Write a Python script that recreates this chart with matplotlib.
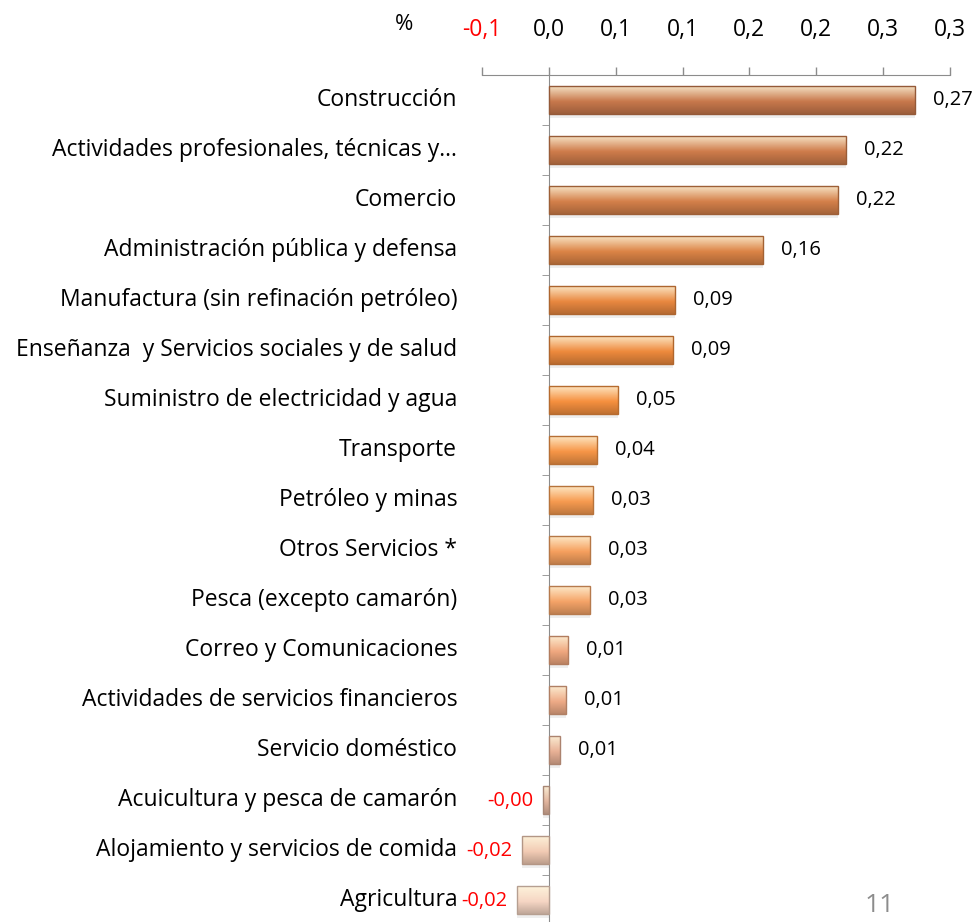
import matplotlib.pyplot as plt
import matplotlib.colors as mcolors
import numpy as np
from matplotlib.ticker import FixedLocator, FuncFormatter

# Datos: contribución al crecimiento por actividad (%)
sectores = [
    "Construcción",
    "Actividades profesionales, técnicas y…",
    "Comercio",
    "Administración pública y defensa",
    "Manufactura (sin refinación petróleo)",
    "Enseñanza  y Servicios sociales y de salud",
    "Suministro de electricidad y agua",
    "Transporte",
    "Petróleo y minas",
    "Otros Servicios *",
    "Pesca (excepto camarón)",
    "Correo y Comunicaciones",
    "Actividades de servicios financieros",
    "Servicio doméstico",
    "Acuicultura y pesca de camarón",
    "Alojamiento y servicios de comida",
    "Agricultura",
]
valores = [0.274, 0.222, 0.216, 0.160, 0.094, 0.093, 0.052, 0.036, 0.033,
           0.031, 0.031, 0.014, 0.013, 0.008, -0.004, -0.020, -0.024]
ticks_x = [-0.05, 0.0, 0.05, 0.10, 0.15, 0.20, 0.25, 0.30]

# Colores de cada barra (de marrón oscuro a durazno claro)
colores = ["#c8784c", "#cf7c4b", "#d4804a", "#dc8446", "#e98840", "#ee8a3d",
           "#f6903f", "#f79647", "#f79b50", "#f6a05e", "#f5a468", "#f0a87f",
           "#eeab87", "#e8b196", "#e2b59e", "#f2cbb4", "#f6d6c4"]

plt.rcParams["font.family"] = ["Open Sans", "DejaVu Sans"]

fig = plt.figure(figsize=(9.8, 9.22), dpi=100)
ax = fig.add_axes([0.4918, -0.0033, 0.4776, 0.9219])

n = len(sectores)
y = np.arange(n)[::-1]
alto = 0.56

# sombra suave
ax.barh(y - 0.08, valores, alto, color="#cfcfcf", alpha=0.35, zorder=1, linewidth=0)

barras = ax.barh(y, valores, alto, color=colores, zorder=2, linewidth=0)

# efecto bisel: degradado vertical recortado a cada barra
t = np.linspace(0, 1, 64)[:, None]
for barra, c in zip(barras, colores):
    base = np.array(mcolors.to_rgb(c))
    claro = base + (np.array([1.0, 0.98, 0.88]) - base) * 0.8
    oscuro = base * 0.78
    arriba = claro + (base - claro) * np.clip(t / 0.55, 0, 1)
    abajo = base + (oscuro - base) * np.clip((t - 0.55) / 0.45, 0, 1)
    grad = np.where(t < 0.55, arriba, abajo)[:, None, :].repeat(2, axis=1)
    x0, y0 = barra.get_x(), barra.get_y()
    w, h = barra.get_width(), barra.get_height()
    im = ax.imshow(grad, extent=(x0, x0 + w, y0, y0 + h), origin="upper",
                   aspect="auto", zorder=3, interpolation="bilinear")
    im.set_clip_path(barra)
    borde = plt.Rectangle((x0, y0), w, h, fill=False, edgecolor=oscuro * 0.95,
                          linewidth=1.0, zorder=4)
    ax.add_patch(borde)

ax.set_xlim(-0.05, 0.30)
ax.set_ylim(-0.5, n - 0.5)

# eje x arriba
ax.xaxis.set_ticks_position("top")
ax.xaxis.set_label_position("top")
ax.xaxis.set_major_locator(FixedLocator(ticks_x))


def formato(v, pos=None):
    r = np.sign(v) * np.floor(abs(v) * 10 + 0.5 + 1e-9) / 10
    return f"{r:.1f}".replace(".", ",")


ax.xaxis.set_major_formatter(FuncFormatter(formato))
ax.tick_params(axis="x", direction="out", length=6, width=1, color="#8c8c8c",
               pad=18, labelsize=16.5)
for lbl, v in zip(ax.get_xticklabels(), ticks_x):
    if v < 0:
        lbl.set_color("red")
fig.text(404 / 980, 1 - 25 / 922, "%", fontsize=16, ha="center", va="center")

# eje y en x = 0 con marcas entre categorías
for s in ["right", "bottom"]:
    ax.spines[s].set_visible(False)
ax.spines["left"].set_position(("data", 0))
ax.spines["left"].set_color("#8c8c8c")
ax.spines["top"].set_color("#8c8c8c")
ax.set_yticks([])
ax.set_yticks(np.arange(n - 1) + 0.5, minor=True)
ax.tick_params(axis="y", which="minor", direction="out", length=5, color="#8c8c8c")

tr = ax.get_yaxis_transform()
for yi, nombre in zip(y, sectores):
    ax.text(-0.053, yi, nombre, transform=tr, ha="right", va="center", fontsize=16.5)

# etiquetas de valor
for yi, v in zip(y, valores):
    txt = f"{v:.2f}".replace(".", ",")
    if v >= 0:
        ax.annotate(txt, (v, yi), xytext=(13, 0), textcoords="offset points",
                    ha="left", va="center", fontsize=14.5)
    else:
        ax.annotate(txt, (v, yi), xytext=(-7, -1), textcoords="offset points",
                    ha="right", va="center", fontsize=14.5, color="red")

fig.text(880 / 980, 1 - 905 / 922, "11", fontsize=19, color="#8c8c8c",
         ha="center", va="center")

fig.savefig("out.png", dpi=100)
